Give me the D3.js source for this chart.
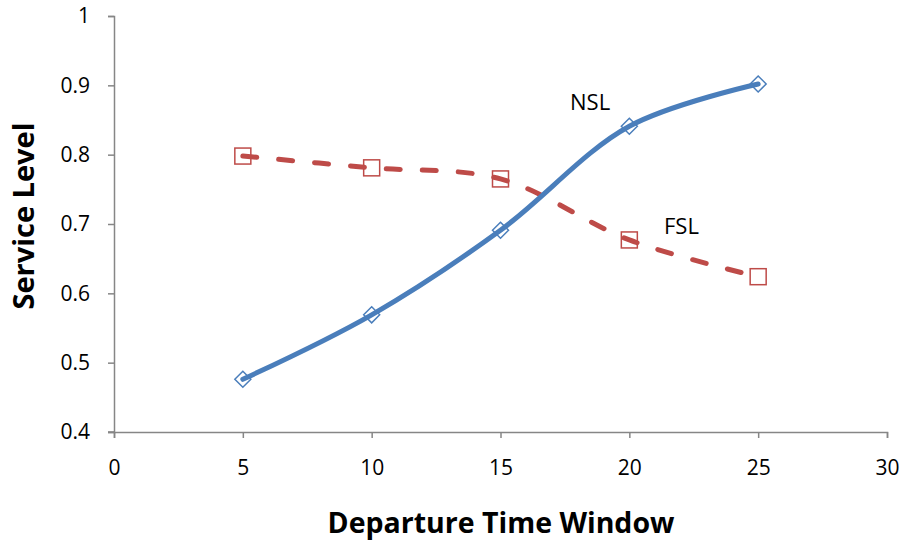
<!DOCTYPE html>
<html>
<head>
<meta charset="utf-8">
<script src="https://cdn.jsdelivr.net/npm/d3@7"></script>
<style>
  html, body { margin: 0; padding: 0; background: #fff; }
  svg { display: block; }
  text { font-family: "Open Sans", "DejaVu Sans Condensed", sans-serif; }
</style>
</head>
<body>
<svg id="chart" width="901" height="542"></svg>
<script>
// Departure time windows and the two service-level series
const windows = [5, 10, 15, 20, 25];
const nsl = [0.476, 0.569, 0.691, 0.841, 0.902];
const fsl = [0.798, 0.781, 0.765, 0.677, 0.624];
const xTicks = [0, 5, 10, 15, 20, 25, 30];
const yTicks = [0.4, 0.5, 0.6, 0.7, 0.8, 0.9, 1];

const svg = d3.select("#chart");
const axisColor = "#868686";
const blue = "#4a7ebb";
const red = "#be4b48";

const x = d3.scaleLinear().domain([0, 30]).range([114, 887]);
const y = d3.scaleLinear().domain([0.4, 1]).range([432, 16]);

// Axes
const xAxis = svg.append("g").attr("transform", `translate(0,${y(0.4)})`)
  .call(d3.axisBottom(x).tickValues(xTicks).tickSize(6).tickPadding(22).tickFormat(d3.format("d")));
const yAxis = svg.append("g").attr("transform", `translate(${x(0)},0)`)
  .call(d3.axisLeft(y).tickValues(yTicks).tickSize(6).tickPadding(18).tickFormat(d => d === 1 ? "1" : d3.format(".1f")(d)));

[xAxis, yAxis].forEach(g => {
  g.select(".domain").attr("stroke", axisColor).attr("stroke-width", 1.5);
  g.selectAll(".tick line").attr("stroke", axisColor).attr("stroke-width", 1.5);
  g.selectAll(".tick text").attr("fill", "#000").style("font-size", "21px");
});
// extend x axis line left through the y axis tick position
svg.append("line").attr("x1", x(0) - 6).attr("x2", x(0)).attr("y1", y(0.4)).attr("y2", y(0.4))
  .attr("stroke", axisColor).attr("stroke-width", 1.5);

// Axis titles
svg.append("text").attr("x", 501).attr("y", 533).attr("text-anchor", "middle")
  .style("font-size", "28.5px").style("font-weight", "bold").text("Departure Time Window");
svg.append("text").attr("transform", `translate(26,216) rotate(-90)`)
  .attr("text-anchor", "middle").attr("dominant-baseline", "middle")
  .style("font-size", "29px").style("font-weight", "bold").text("Service Level");

const line = d3.line().x(d => x(d[0])).y(d => y(d[1])).curve(d3.curveCatmullRom.alpha(0.5));
const nslPts = windows.map((w, i) => [w, nsl[i]]);
const fslPts = windows.map((w, i) => [w, fsl[i]]);

// Markers (unfilled)
svg.append("g").selectAll("rect").data(fslPts).join("rect")
  .attr("x", d => x(d[0]) - 8).attr("y", d => y(d[1]) - 8).attr("width", 16).attr("height", 16)
  .attr("fill", "none").attr("stroke", red).attr("stroke-width", 1.5);
svg.append("g").selectAll("path").data(nslPts).join("path")
  .attr("d", d => `M${x(d[0])},${y(d[1]) - 8}L${x(d[0]) + 8},${y(d[1])}L${x(d[0])},${y(d[1]) + 8}L${x(d[0]) - 8},${y(d[1])}Z`)
  .attr("fill", "none").attr("stroke", blue).attr("stroke-width", 1.5);

// Lines
svg.append("path").datum(fslPts).attr("d", line).attr("fill", "none")
  .attr("stroke", red).attr("stroke-width", 5).attr("stroke-linecap", "round")
  .attr("stroke-dasharray", "14 22");
svg.append("path").datum(nslPts).attr("d", line).attr("fill", "none")
  .attr("stroke", blue).attr("stroke-width", 5).attr("stroke-linecap", "round");

// Series labels
svg.append("text").attr("x", 570).attr("y", 110).style("font-size", "22px").text("NSL");
svg.append("text").attr("x", 664).attr("y", 234).style("font-size", "22px").text("FSL");
</script>
</body>
</html>
